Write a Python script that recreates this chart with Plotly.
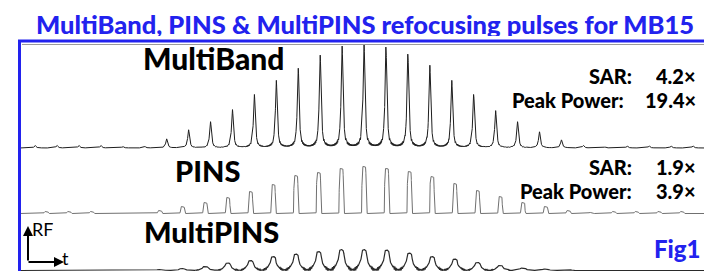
import numpy as np
import plotly.graph_objects as go

# ---------------- data (arbitrary units) ----------------
mb_amplitudes = [2.5, 2.5, 2.5, 2.5, 1.5, 1.5, 9, 18, 26, 38, 53, 67, 79, 92, 101, 103,
                 100, 93, 82, 67, 53, 37, 26, 16, 8, 2.5, 1, 2, 2, 2, 2]
pins_amplitudes = [2, 2, 2, 0.5, 0.5, 3, 7, 11, 16, 22, 29, 38, 41, 45, 47,
                   45, 42, 37, 30, 23, 17, 11, 7, 3, 1, 2, 2, 2, 2]
mpins_amplitudes = [0, 0, 0, 0, 0, 1, 2, 4, 7.5, 10, 14, 16.5, 19, 21, 21,
                    20.5, 17.5, 14, 11.5, 8, 5, 2.5, 1.5, 1, 0.5, 0, 0, 0, 0]
mb_spacing = 1.0        # sub-pulse spacing (a.u. of time)
pins_spacing = 1.035
labels = ["MultiBand", "PINS", "MultiPINS"]
sar_values = ["4.2×", "1.9×"]
peak_power_values = ["19.4×", "3.9×"]
title = "MultiBand, PINS & MultiPINS refocusing pulses for MB15"

W, H = 712, 271
BLUE = "#2222ee"
T_HALF = 15.686
t = np.linspace(-T_HALF, T_HALF, 24000)


def centres(n, spacing):
    return (np.arange(n) - (n - 1) / 2) * spacing


# MultiBand: sharp sinc-like spikes with dark ripple skirts
mb = np.zeros_like(t)
for c, a in zip(centres(len(mb_amplitudes), mb_spacing), mb_amplitudes):
    d = t - c
    mb += a / (1 + (d / 0.045) ** 2)
    mb += a * 0.035 * np.abs(np.sin(2 * np.pi * d / 0.08)) * np.exp(-(d / 0.4) ** 2)

# PINS: narrow rectangular blocks
pins = np.zeros_like(t)
for c, a in zip(centres(len(pins_amplitudes), pins_spacing), pins_amplitudes):
    d = t - c
    pins += a * np.exp(-(np.abs(d) / 0.1) ** 12)

# MultiPINS: narrow block on a broad arch, with dark ripple in the troughs
mp = np.zeros_like(t)
for c, a in zip(centres(len(mpins_amplitudes), pins_spacing), mpins_amplitudes):
    d = t - c
    mp += a * 0.42 * np.exp(-(np.abs(d) / 0.13) ** 10)
    mp += a * 0.58 * np.exp(-(d / 0.28) ** 2)
    mp += a * 0.09 * np.sin(2 * np.pi * d / 0.06) * np.exp(-((np.abs(d) - 0.38) / 0.1) ** 2)


def ydomain(px_top, px_bot):
    return [(H - px_bot) / H, (H - px_top) / H]


fig = go.Figure()
fig.add_trace(go.Scatter(x=t, y=mb, mode="lines", line=dict(color="#1e1e1e", width=1), yaxis="y"))
fig.add_trace(go.Scatter(x=t, y=pins, mode="lines", line=dict(color="#707070", width=1), yaxis="y2"))
fig.add_trace(go.Scatter(x=t, y=mp, mode="lines", line=dict(color="#2a2a2a", width=1.2), yaxis="y3"))

# baselines: MB 140px, PINS 205.5px, MultiPINS 262.5px (1 a.u. = 1 px)
fig.update_layout(
    width=W, height=H, margin=dict(l=0, r=0, t=0, b=0),
    paper_bgcolor="white", plot_bgcolor="rgba(0,0,0,0)", showlegend=False,
    xaxis=dict(domain=[12 / W, 700 / W], range=[-T_HALF, T_HALF], visible=False),
    yaxis=dict(domain=ydomain(37, 145), range=[-5, 103], visible=False),
    yaxis2=dict(domain=ydomain(150, 211), range=[-5.5, 55.5], visible=False, anchor="x"),
    yaxis3=dict(domain=ydomain(215, 267), range=[-4.5, 47.5], visible=False, anchor="x"),
)


def px(x):
    return x / W


def py(y):
    return (H - y) / H


fig.add_shape(type="rect", xref="paper", yref="paper", x0=px(11.5), x1=px(700.5), y0=py(267.5),
              y1=py(33), line=dict(color=BLUE, width=3))
fig.add_shape(type="line", xref="paper", yref="paper", x0=px(14), x1=px(698), y0=py(36.5),
              y1=py(36.5), line=dict(color="#9a9a9a", width=1))

ann = []


def text(x, y, s, size, color="black", xanchor="center", bold=True, family="Lato", h=None):
    ann.append(dict(x=px(x), y=py(y), xref="paper", yref="paper", text=s,
                    showarrow=False, xanchor=xanchor, yanchor="middle", height=h,
                    valign="middle", borderpad=0,
                    font=dict(family=family, size=size, color=color,
                              weight=900 if bold else "normal")))


text(357, 15, title, 25.5, BLUE, h=25)
text(205, 50, labels[0], 30)
text(199, 162, labels[1], 29)
text(203, 223, labels[2], 29)
text(625, 67, "SAR:", 20, xanchor="right", h=19)
text(689, 67, sar_values[0], 20, xanchor="right", h=19)
text(617, 91, "Peak Power:", 20, xanchor="right", h=19)
text(689, 91, peak_power_values[0], 20, xanchor="right", h=19)
text(625, 158.5, "SAR:", 20, xanchor="right", h=18)
text(689, 158.5, sar_values[1], 20, xanchor="right", h=18)
text(625, 182.5, "Peak Power:", 20, xanchor="right", h=18)
text(689, 182.5, peak_power_values[1], 20, xanchor="right", h=18)
text(694, 240, "Fig1", 24, BLUE, xanchor="right")
text(23, 221, "RF", 18, xanchor="left", bold=False, h=18)
text(53, 250, "t", 18, xanchor="left", bold=False, h=18)

# RF / t axis arrows
ann.append(dict(x=px(20), y=py(218), ax=0, ay=36, xref="paper", yref="paper",
                text="", showarrow=True, arrowhead=2,
                arrowsize=1, arrowwidth=2, arrowcolor="black"))
ann.append(dict(x=px(56), y=py(254), ax=-37, ay=0, xref="paper", yref="paper",
                text="", showarrow=True, arrowhead=2,
                arrowsize=1, arrowwidth=2, arrowcolor="black"))
fig.update_layout(annotations=ann)

fig.write_html("out.html")
